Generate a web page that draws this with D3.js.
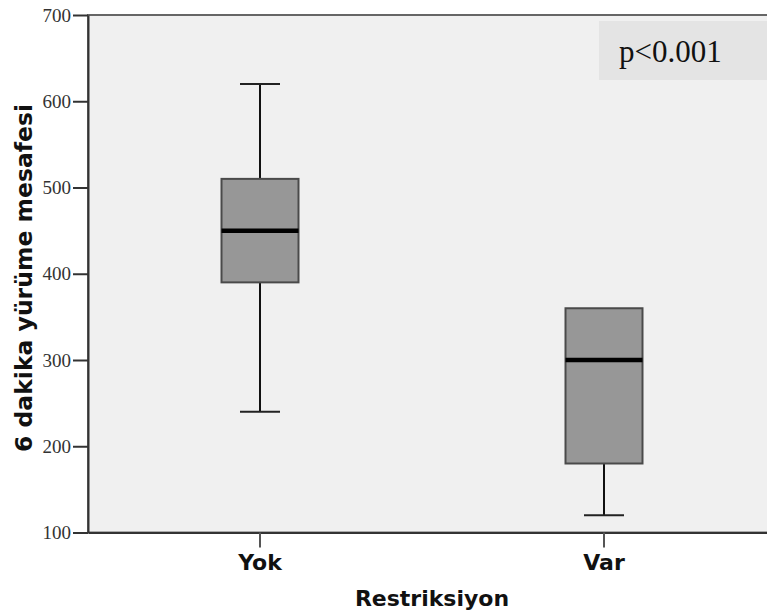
<!DOCTYPE html>
<html>
<head>
<meta charset="utf-8">
<script src="https://cdn.jsdelivr.net/npm/d3@7"></script>
<style>
  body { margin: 0; background: #fff; }
  svg { display: block; }
</style>
</head>
<body>
<script>
  // box plot values
  var groups = ["Yok", "Var"];
  var whiskerLow = [240, 120];
  var q1 = [390, 180];
  var medians = [450, 300];
  var q3 = [510, 360];
  var whiskerHigh = [620, 360];
  var yTicks = [100, 200, 300, 400, 500, 600, 700];
  var note = "p<0.001";

(function() {
  var width = 767, height = 615;
  var plotLeft = 88, plotTop = 15, plotRight = 776, plotBottom = 532.5;

  var svg = d3.select("body").append("svg")
      .attr("width", width)
      .attr("height", height);

  var x = d3.scaleBand()
      .domain(groups)
      .range([plotLeft, plotRight]);

  var y = d3.scaleLinear()
      .domain([100, 700])
      .range([plotBottom, plotTop]);

  // plot background
  svg.append("rect")
      .attr("x", plotLeft).attr("y", plotTop)
      .attr("width", plotRight - plotLeft).attr("height", plotBottom - plotTop)
      .attr("fill", "#f0f0f0")
      .attr("stroke", "#666")
      .attr("stroke-width", 2);

  // p value box
  svg.append("rect")
      .attr("x", 599).attr("y", 21)
      .attr("width", 200).attr("height", 59)
      .attr("fill", "#e4e4e4");
  svg.append("text")
      .attr("x", 619).attr("y", 62)
      .style("font-family", "'Liberation Serif', 'Times New Roman', serif")
      .style("font-size", "31px")
      .attr("fill", "#111")
      .text(note);

  var boxes = groups.map(function(g, i) {
    return {name: g, lo: whiskerLow[i], q1: q1[i], med: medians[i], q3: q3[i], hi: whiskerHigh[i]};
  });

  var cx = function(d) { return x(d.name) + x.bandwidth() / 2; };
  var boxW = 77, capW = 40;

  var g = svg.selectAll(".box")
      .data(boxes)
    .enter().append("g")
      .attr("class", "box");

  // whiskers
  g.append("line")
      .attr("x1", cx).attr("x2", cx)
      .attr("y1", function(d) { return y(d.hi); })
      .attr("y2", function(d) { return y(d.q3); })
      .attr("stroke", "#111").attr("stroke-width", 2);
  g.append("line")
      .attr("x1", cx).attr("x2", cx)
      .attr("y1", function(d) { return y(d.q1); })
      .attr("y2", function(d) { return y(d.lo); })
      .attr("stroke", "#111").attr("stroke-width", 2);
  g.filter(function(d) { return d.hi > d.q3; }).append("line")
      .attr("x1", function(d) { return cx(d) - capW / 2; })
      .attr("x2", function(d) { return cx(d) + capW / 2; })
      .attr("y1", function(d) { return y(d.hi); })
      .attr("y2", function(d) { return y(d.hi); })
      .attr("stroke", "#222").attr("stroke-width", 2);
  g.append("line")
      .attr("x1", function(d) { return cx(d) - capW / 2; })
      .attr("x2", function(d) { return cx(d) + capW / 2; })
      .attr("y1", function(d) { return y(d.lo); })
      .attr("y2", function(d) { return y(d.lo); })
      .attr("stroke", "#222").attr("stroke-width", 2);

  // box
  g.append("rect")
      .attr("x", function(d) { return cx(d) - boxW / 2; })
      .attr("y", function(d) { return y(d.q3); })
      .attr("width", boxW)
      .attr("height", function(d) { return y(d.q1) - y(d.q3); })
      .attr("fill", "#979797")
      .attr("stroke", "#4a4a4a")
      .attr("stroke-width", 2);

  // median
  g.append("line")
      .attr("x1", function(d) { return cx(d) - boxW / 2; })
      .attr("x2", function(d) { return cx(d) + boxW / 2; })
      .attr("y1", function(d) { return y(d.med); })
      .attr("y2", function(d) { return y(d.med); })
      .attr("stroke", "#000").attr("stroke-width", 4.5);

  // axes
  var yAxis = d3.axisLeft(y).tickValues(yTicks).tickSize(15).tickPadding(2).tickSizeOuter(0);
  var ya = svg.append("g")
      .attr("transform", "translate(" + plotLeft + ",0)")
      .call(yAxis);
  ya.select(".domain").attr("stroke", "#333").attr("stroke-width", 2);
  ya.selectAll(".tick line").attr("stroke", "#333").attr("stroke-width", 2);
  ya.selectAll(".tick text")
      .style("font-family", "'Liberation Serif', 'Times New Roman', serif")
      .style("font-size", "19px")
      .attr("fill", "#333");

  var xAxis = d3.axisBottom(x).tickSize(15).tickPadding(7).tickSizeOuter(0);
  var xa = svg.append("g")
      .attr("transform", "translate(0," + plotBottom + ")")
      .call(xAxis);
  xa.select(".domain").attr("stroke", "#333").attr("stroke-width", 2);
  xa.selectAll(".tick line").attr("stroke", "#555").attr("stroke-width", 2);
  xa.selectAll(".tick text")
      .style("font-family", "'DejaVu Sans', sans-serif")
      .style("font-weight", "bold")
      .style("font-size", "22px")
      .attr("fill", "#111");

  svg.append("text")
      .attr("x", (plotLeft + plotRight) / 2)
      .attr("y", 606)
      .attr("text-anchor", "middle")
      .style("font-family", "'DejaVu Sans', sans-serif")
      .style("font-weight", "bold")
      .style("font-size", "22px")
      .attr("fill", "#111")
      .text("Restriksiyon");

  svg.append("text")
      .attr("transform", "translate(32," + 278 + ") rotate(-90)")
      .attr("text-anchor", "middle")
      .style("font-family", "'DejaVu Sans', sans-serif")
      .style("font-weight", "bold")
      .style("font-size", "23.5px")
      .attr("fill", "#111")
      .text("6 dakika yürüme mesafesi");
}());
</script>
</body>
</html>
